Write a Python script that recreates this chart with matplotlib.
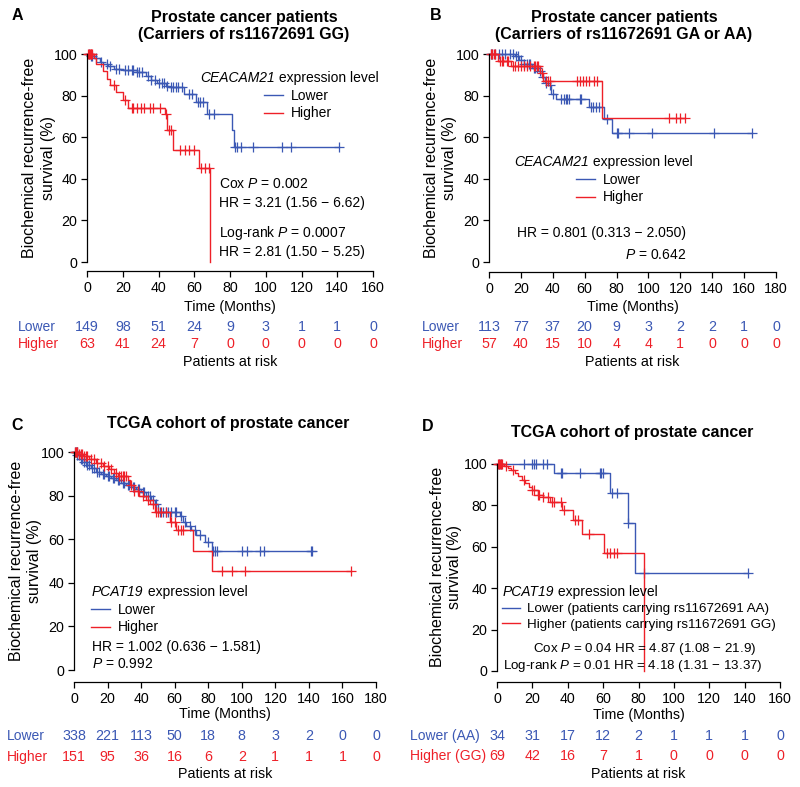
import numpy as np
import matplotlib
matplotlib.use("Agg")
import matplotlib.pyplot as plt
from matplotlib.transforms import blended_transform_factory

plt.rcParams['font.family'] = ['Liberation Sans', 'DejaVu Sans']
plt.rcParams['mathtext.fontset'] = 'custom'
plt.rcParams['mathtext.rm'] = 'Liberation Sans'
plt.rcParams['mathtext.it'] = 'Liberation Sans:italic'
plt.rcParams['axes.unicode_minus'] = True

BLUE = "#3b58b4"
RED = "#ee2028"
MINUS = "\u2212"
FS = 10  # body text size

# ---- panel A : rs11672691 GG carriers, CEACAM21 ----
a_low_t = [0, 2, 4, 7, 9, 12, 15, 20, 28, 33, 36, 39, 44, 46, 54, 61, 67, 81, 82.5]
a_low_s = [100, 99, 98, 96, 95, 94, 93, 92.5, 91.5, 89.5, 87.5, 86, 84.7, 84, 81, 77, 71, 63.5, 55.5]
a_low_c = [1, 2, 3, 5, 8, 11, 13, 16, 18, 21, 23, 25, 26, 28, 29, 31, 34, 36, 38, 40, 42, 43,
           45, 47, 48, 50, 51, 53, 57, 59, 62, 63, 65, 68, 71, 83, 84, 86, 93, 109, 114, 141]
a_low_end = 141
a_high_t = [0, 4, 5, 9, 11, 13, 16, 20, 23, 43.5, 45, 48, 62.5, 68.6]
a_high_s = [100, 98, 95, 92, 88, 85, 81.5, 78, 74, 71, 63.5, 54, 45, 0]
a_high_c = [0.5, 1, 1.5, 2, 2.5, 3, 15, 21, 25, 26, 28, 30, 32, 35, 37, 41, 44, 46, 47,
            52, 55, 57, 60, 64, 66, 68]
a_high_end = 68.6
a_ticks = [0, 20, 40, 60, 80, 100, 120, 140, 160]
a_risk_low = [149, 98, 51, 24, 9, 3, 1, 1, 0]
a_risk_high = [63, 41, 24, 7, 0, 0, 0, 0, 0]

# ---- panel B : GA or AA carriers, CEACAM21 ----
b_low_t = [0, 16, 19, 22, 27, 31, 33, 35, 37, 39, 42, 63, 72, 77]
b_low_s = [100, 99, 97, 95, 93.5, 92, 89, 86, 85, 81, 78.6, 74.5, 68.6, 61.8]
b_low_c = [1, 2, 4, 6, 8, 10, 13, 15, 17, 18, 20, 22, 24, 25, 26, 28, 29, 30, 32, 34, 36, 38,
           40, 45, 47, 48, 49, 50, 57, 58, 64, 65, 67, 69, 74, 80, 81, 88, 102, 141, 165]
b_low_end = 165
b_high_t = [0, 5.5, 14, 32, 34, 70.6]
b_high_s = [100, 96.6, 94.2, 90.8, 86.8, 69.4]
b_high_c = [1, 2, 3, 4, 7, 8, 9, 11, 12, 15, 16, 18, 20, 22, 24, 26, 28, 29, 30, 31, 33, 36,
            37, 38, 55, 57, 59, 61, 63, 66, 68, 113, 117, 120, 123]
b_high_end = 123
b_ticks = [0, 20, 40, 60, 80, 100, 120, 140, 160, 180]
b_risk_low = [113, 77, 37, 20, 9, 3, 2, 2, 1, 0]
b_risk_high = [57, 40, 15, 10, 4, 4, 1, 0, 0, 0]

# ---- panel C : TCGA, PCAT19 ----
c_low_t = [0, 2, 4, 6, 8, 10, 13, 16, 19, 22, 25, 28, 31, 34, 37, 40, 43, 46, 48, 50,
           63, 65, 67, 70, 73, 78, 82]
c_low_s = [100, 98.5, 97, 95.5, 94, 92.5, 91, 90, 89, 88, 87, 86, 85, 84, 83, 81.5, 80,
           78, 76, 72.5, 70.5, 68, 66, 64, 62, 58.5, 54.7]
c_low_c = [0.5, 1, 1.5, 2, 3, 4, 5, 6, 7, 8, 9, 11, 12, 14, 15, 17, 18, 20, 21, 23, 24, 26,
           27, 29, 30, 32, 33, 35, 36, 38, 39, 41, 42, 44, 45, 47, 49, 51, 53, 55, 56, 58, 60,
           61, 64, 66, 69, 72, 75, 80, 83, 84, 85, 100, 103, 111, 113, 141, 142]
c_low_end = 142
c_high_t = [0, 3, 6, 9, 13, 17, 21, 24, 26, 32, 33.5, 35.5, 39, 43, 45, 48, 57, 61, 70.8, 82.3]
c_high_s = [100, 99, 98, 97, 95, 93.7, 92, 90.5, 89, 87.3, 85, 82, 79.6, 78, 76, 72.5, 68,
            64, 54.5, 45.3]
c_high_c = [0.5, 1, 1.5, 2, 3, 4, 5, 6, 7, 8, 10, 12, 14, 16, 18, 20, 22, 25, 27, 28, 29, 30,
            31, 34, 36, 38, 41, 44, 47, 49, 50, 52, 55, 58, 60, 62, 64, 65, 88, 94, 102, 165]
c_high_end = 165
c_ticks = [0, 20, 40, 60, 80, 100, 120, 140, 160, 180]
c_risk_low = [338, 221, 113, 50, 18, 8, 3, 2, 0, 0]
c_risk_high = [151, 95, 36, 16, 6, 2, 1, 1, 1, 0]

# ---- panel D : TCGA, PCAT19 by genotype ----
d_low_t = [0, 32.4, 63.7, 73.8, 77.8]
d_low_s = [100, 95.5, 86, 71.5, 47.5]
d_low_c = [1, 2, 15, 20, 21, 22, 26, 28, 36, 37, 47, 58, 59, 60, 65, 68, 74, 83, 142]
d_low_end = 142
d_high_t = [0, 4, 6, 8, 10, 12, 14, 16, 18, 20, 23, 26, 30, 37, 43, 48, 60.6, 82.9]
d_high_s = [100, 99, 98, 97, 95.5, 94, 92.3, 90.7, 89, 87.4, 85, 84, 81.8, 77.8, 73, 66, 56.8, 0]
d_high_c = [0.5, 1, 1.5, 2, 3, 5, 9, 15, 20, 21, 23, 24, 26, 29, 31, 32, 36, 38, 44, 46,
            52, 62, 64, 66, 68]
d_high_end = 82.9
d_ticks = [0, 20, 40, 60, 80, 100, 120, 140, 160]
d_risk_low = [34, 31, 17, 12, 2, 1, 1, 1, 0]
d_risk_high = [69, 42, 16, 7, 1, 0, 0, 0, 0]

W, H = 800, 787
fig = plt.figure(figsize=(W / 100, H / 100), dpi=100)


def fx(x):
    return x / W


def fy(y):
    return 1 - y / H


def km(ax, t, s, cens, end, color):
    t = np.asarray(t, float)
    s = np.asarray(s, float)
    line, = ax.step(np.append(t, end), np.append(s, s[-1]), where='post', color=color,
                    lw=1.0, clip_on=False)
    c = np.asarray(cens, float)
    cy = s[np.searchsorted(t, c, side='right') - 1]
    ax.plot(c, cy, ls='none', marker='+', ms=6.5, mew=0.9, color=color, clip_on=False)
    return line


def panel(box, ticks, xoff, low, high, risk_low, risk_high, row_y, lab_x, lab_names):
    l, t, r, b = box
    ax = fig.add_axes([fx(l), fy(b), fx(r - l), (b - t) / H])
    l1 = km(ax, *low, BLUE)
    l2 = km(ax, *high, RED)
    ax.set_xlim(ticks[0], ticks[-1])
    ax.set_ylim(0, 100)
    ax.set_xticks(ticks)
    ax.set_yticks([0, 20, 40, 60, 80, 100])
    for sp in ['top', 'right']:
        ax.spines[sp].set_visible(False)
    ax.spines['bottom'].set_position(('outward', xoff * 0.72))
    ax.spines['left'].set_linewidth(0.9)
    ax.spines['bottom'].set_linewidth(0.9)
    ax.tick_params(labelsize=10.3, length=4, width=0.9, pad=3)
    ax.set_xlabel('Time (Months)', fontsize=10.3)
    ax.xaxis.set_label_coords(fx((l + r) / 2), fy(row_y[0]), transform=fig.transFigure)
    ax.xaxis.label.set_va('center')
    # patients at risk table
    tr = blended_transform_factory(ax.transData, fig.transFigure)
    for k, (vals, col) in enumerate([(risk_low, BLUE), (risk_high, RED)]):
        yy = fy(row_y[k + 1])
        for tk, v in zip(ticks, vals):
            ax.text(tk, yy, str(v), transform=tr, ha='center', va='center', fontsize=10.3,
                    color=col, clip_on=False)
        fig.text(fx(lab_x), yy, lab_names[k], ha='left', va='center', fontsize=10, color=col)
    fig.text(fx((l + r) / 2), fy(row_y[3]), 'Patients at risk', ha='center', va='center',
             fontsize=10.3)
    return ax, [l1, l2]


def ylab(x, y):
    fig.text(fx(x), fy(y), 'Biochemical recurrence-free\nsurvival (%)', rotation=90,
             ha='center', va='center', multialignment='center', fontsize=11.5, linespacing=1.25)


def legend(ax, handles, labels, x, y, fs=FS):
    ax.legend(handles, labels, loc='upper left', bbox_to_anchor=(fx(x), fy(y)),
              bbox_transform=fig.transFigure, frameon=False, fontsize=fs, handlelength=1.35,
              handletextpad=0.55, labelspacing=0.25, borderpad=0, borderaxespad=0)


def note(x, y, s, ha='left', fs=FS):
    return fig.text(fx(x), fy(y), s, fontsize=fs, va='center', ha=ha)


def gene_note(ax, x, y, gene):
    g = fig.text(fx(x), fy(y), gene, fontsize=FS, style='italic', va='center')
    ax.annotate(' expression level', xy=(1, 0), xycoords=g, ha='left', va='bottom',
                fontsize=FS)


# A
axA, hA = panel((87, 54, 373, 262), a_ticks, 9,
                (a_low_t, a_low_s, a_low_c, a_low_end), (a_high_t, a_high_s, a_high_c, a_high_end),
                a_risk_low, a_risk_high, (307, 327, 344, 362), 18, ['Lower', 'Higher'])
ylab(39, 158)
fig.text(fx(17), fy(15), 'A', fontsize=11.5, fontweight='bold', ha='center', va='center')
fig.text(fx(244), fy(26), 'Prostate cancer patients\n(Carriers of rs11672691 GG)',
         fontsize=11.5, fontweight='bold', ha='center', va='center', linespacing=1.1)
gene_note(axA, 200, 78, 'CEACAM21')
legend(axA, hA, ['Lower', 'Higher'], 264, 89)
note(219, 184, 'Cox $\\it{P}$ = 0.002')
note(219, 203, 'HR = 3.21 (1.56 ' + MINUS + ' 6.62)')
note(219, 233, 'Log-rank $\\it{P}$ = 0.0007')
note(219, 252, 'HR = 2.81 (1.50 ' + MINUS + ' 5.25)')

# B
axB, hB = panel((489, 54, 776, 262), b_ticks, 10,
                (b_low_t, b_low_s, b_low_c, b_low_end), (b_high_t, b_high_s, b_high_c, b_high_end),
                b_risk_low, b_risk_high, (307, 327, 344, 362), 422, ['Lower', 'Higher'])
ylab(440, 158)
fig.text(fx(436), fy(15), 'B', fontsize=11.5, fontweight='bold', ha='center', va='center')
fig.text(fx(624), fy(26), 'Prostate cancer patients\n(Carriers of rs11672691 GA or AA)',
         fontsize=11.5, fontweight='bold', ha='center', va='center', linespacing=1.1)
gene_note(axB, 514, 162, 'CEACAM21')
legend(axB, hB, ['Lower', 'Higher'], 576, 173)
note(686, 233, 'HR = 0.801 (0.313 ' + MINUS + ' 2.050)', ha='right')
note(686, 255, '$\\it{P}$ = 0.642', ha='right')

# C
axC, hC = panel((74, 452, 376, 670), c_ticks, 12,
                (c_low_t, c_low_s, c_low_c, c_low_end), (c_high_t, c_high_s, c_high_c, c_high_end),
                c_risk_low, c_risk_high, (714, 736, 757, 774), 7, ['Lower', 'Higher'])
ylab(26, 561)
fig.text(fx(17), fy(426), 'C', fontsize=11.5, fontweight='bold', ha='center', va='center')
fig.text(fx(228), fy(424), 'TCGA cohort of prostate cancer', fontsize=11.5, fontweight='bold',
         ha='center', va='center')
gene_note(axC, 92, 592, 'PCAT19')
legend(axC, hC, ['Lower', 'Higher'], 91, 603)
note(92, 647, 'HR = 1.002 (0.636 ' + MINUS + ' 1.581)')
note(92, 664, '$\\it{P}$ = 0.992')

# D
axD, hD = panel((497, 464, 780, 671), d_ticks, 11,
                (d_low_t, d_low_s, d_low_c, d_low_end), (d_high_t, d_high_s, d_high_c, d_high_end),
                d_risk_low, d_risk_high, (715, 736, 756, 774), 410, ['Lower (AA)', 'Higher (GG)'])
ylab(446, 567)
fig.text(fx(428), fy(427), 'D', fontsize=11.5, fontweight='bold', ha='center', va='center')
fig.text(fx(632), fy(432), 'TCGA cohort of prostate cancer', fontsize=11.5, fontweight='bold',
         ha='center', va='center')
gene_note(axD, 503, 592, 'PCAT19')
legend(axD, hD, ['Lower (patients carrying rs11672691 AA)',
                 'Higher (patients carrying rs11672691 GG)'], 502, 603, fs=9.6)
note(533, 649, 'Cox $\\it{P}$ = 0.04 HR = 4.87 (1.08 ' + MINUS + ' 21.9)', fs=9.6)
note(503, 666, 'Log-rank $\\it{P}$ = 0.01 HR = 4.18 (1.31 ' + MINUS + ' 13.37)', fs=9.6)

fig.savefig('out.png', dpi=100)
